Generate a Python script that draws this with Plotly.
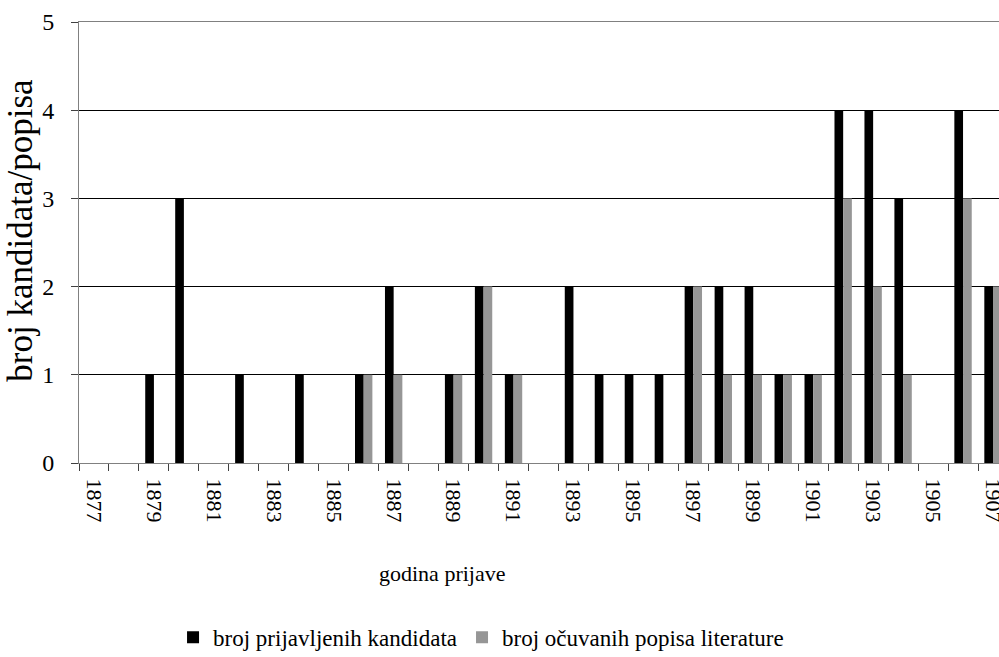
import plotly.graph_objects as go

years = list(range(1877, 1908))
prijavljeni = [0, 0, 1, 3, 0, 1, 0, 1, 0, 1, 2, 0, 1, 2, 1, 0, 2, 1, 1, 1, 2, 2, 2, 1, 1, 4, 4, 3, 0, 4, 2]
ocuvani =     [0, 0, 0, 0, 0, 0, 0, 0, 0, 1, 1, 0, 1, 2, 1, 0, 0, 0, 0, 0, 2, 1, 1, 1, 1, 3, 2, 1, 0, 3, 2]
tick_years = list(range(1877, 1908, 2))
y_ticks = [0, 1, 2, 3, 4, 5]

FONT = "Times New Roman, Liberation Serif, DejaVu Serif, serif"

fig = go.Figure()
fig.add_trace(go.Bar(x=years, y=prijavljeni, name="broj prijavljenih kandidata",
                     marker=dict(color="#000000", line=dict(width=0))))
fig.add_trace(go.Bar(x=years, y=ocuvani, name="broj očuvanih popisa literature",
                     marker=dict(color="#969696", line=dict(width=0))))

fig.update_layout(
    width=999, height=657,
    margin=dict(l=79, r=0, t=22, b=194, autoexpand=False),
    paper_bgcolor="white", plot_bgcolor="white",
    barmode="group", bargap=0.42, bargroupgap=0,
    font=dict(family=FONT, color="black"),
    showlegend=True,
    legend=dict(orientation="h", x=0.437, xanchor="center", y=-0.395, yanchor="middle",
                font=dict(family=FONT, size=23), itemwidth=30, traceorder="normal"),
)
fig.update_xaxes(
    range=[1876.5, 1907.2], tickvals=tick_years, ticktext=[str(y) for y in tick_years],
    tickangle=90, ticks="", showgrid=False, zeroline=False, automargin=False,
    showline=True, linecolor="#808080", linewidth=1, mirror=True,
    tickfont=dict(family=FONT, size=22), ticklabelstandoff=10, ticklabeloverflow="allow",
    minor=dict(ticks="outside", ticklen=7, tickwidth=1, tickcolor="#404040",
               tick0=1876.5, dtick=1, showgrid=False),
)
fig.update_yaxes(
    range=[0, 5], tickvals=y_ticks, ticks="outside", ticklen=7, tickcolor="#404040",
    showgrid=True, gridcolor="#000000", gridwidth=1, zeroline=False, automargin=False,
    showline=True, linecolor="#808080", linewidth=1,
    tickfont=dict(family=FONT, size=24), ticklabelstandoff=12,
)
fig.add_annotation(text="godina prijave", xref="paper", yref="paper",
                   x=0.3946, y=-0.25, xanchor="center", yanchor="middle",
                   showarrow=False, font=dict(family=FONT, size=22))
fig.add_annotation(text="broj kandidata/popisa", xref="paper", yref="paper",
                   x=-0.0630, y=0.527, xanchor="center", yanchor="middle", textangle=-90,
                   showarrow=False, font=dict(family=FONT, size=35))

fig.write_html("out.html", config={"displayModeBar": False},
               post_script="document.body.style.margin='0';document.body.style.overflow='hidden';")
